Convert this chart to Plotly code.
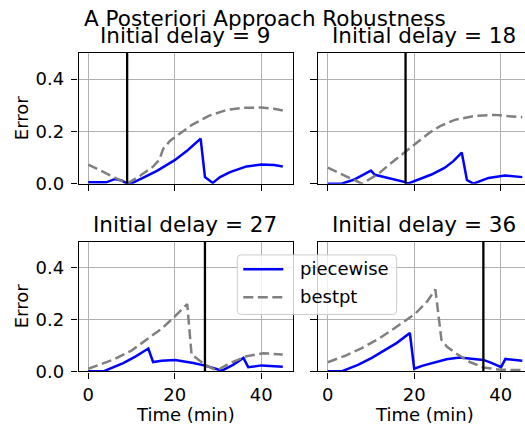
import plotly.graph_objects as go

# ---------------- data ----------------
delays = [9, 18, 27, 36]

pw9_t = [0, 4.2, 6.2, 7.7, 9, 10.4, 13, 16, 20, 23, 26, 27, 28.8, 30.5, 32.8, 36.6, 40.1, 43, 45]
pw9_v = [0.005, 0.005, 0.018, 0.012, 0.0, 0.004, 0.025, 0.05, 0.09, 0.128, 0.172, 0.025, 0.003, 0.025, 0.044, 0.066, 0.073, 0.071, 0.066]
bp9_t = [0, 9, 12, 15, 16.4, 17.4, 19, 21, 24, 28, 32, 36, 40, 43, 45]
bp9_v = [0.073, 0.0, 0.03, 0.065, 0.09, 0.135, 0.165, 0.19, 0.225, 0.26, 0.282, 0.29, 0.291, 0.286, 0.28]

pw18_t = [0, 3.2, 6, 8, 10, 10.9, 14, 17.9, 18.5, 21, 24, 27, 29, 31, 32.2, 33.7, 35.5, 37.2, 41, 45]
pw18_v = [0.0, 0.0, 0.015, 0.032, 0.05, 0.034, 0.022, 0.006, 0.0, 0.015, 0.035, 0.06, 0.085, 0.119, 0.014, 0.0, 0.012, 0.022, 0.031, 0.025]
bp18_t = [0, 7.9, 11.7, 14, 17.9, 20, 23.3, 26, 29.4, 34.1, 38.7, 41, 45]
bp18_v = [0.061, 0.0, 0.037, 0.07, 0.121, 0.15, 0.192, 0.22, 0.244, 0.259, 0.263, 0.259, 0.254]

pw27_t = [0, 3.5, 8.1, 11, 13.9, 15, 17, 20.1, 24.3, 27, 30.9, 33.5, 35.9, 37, 40.1, 45]
pw27_v = [0.0, 0.0, 0.032, 0.058, 0.088, 0.036, 0.041, 0.044, 0.032, 0.022, 0.003, 0.025, 0.052, 0.016, 0.023, 0.018]
bp27_t = [0, 5.8, 10, 13.5, 17, 20.1, 22.9, 23.9, 27, 29.7, 32.8, 36.6, 40.5, 45]
bp27_v = [0.01, 0.045, 0.08, 0.122, 0.165, 0.213, 0.26, 0.065, 0.026, 0.003, 0.032, 0.058, 0.07, 0.065]

pw36_t = [0, 3.2, 7, 10.2, 13, 16, 19, 20, 22, 24.8, 27.5, 30.5, 34, 36, 38, 40.1, 41.1, 45]
pw36_v = [0.0, 0.0, 0.025, 0.052, 0.08, 0.11, 0.148, 0.010, 0.022, 0.036, 0.047, 0.053, 0.049, 0.044, 0.032, 0.016, 0.048, 0.041]
bp36_t = [0, 4, 7.9, 12, 15.6, 20.2, 23, 24.9, 26.3, 27.6, 29.6, 33, 36, 40, 45]
bp36_v = [0.035, 0.06, 0.09, 0.128, 0.168, 0.222, 0.27, 0.316, 0.122, 0.095, 0.07, 0.035, 0.015, 0.006, 0.005]

panels = [
    (pw9_t, pw9_v, bp9_t, bp9_v),
    (pw18_t, pw18_v, bp18_t, bp18_v),
    (pw27_t, pw27_v, bp27_t, bp27_v),
    (pw36_t, pw36_v, bp36_t, bp36_v),
]

x_ticks = [0, 20, 40]
y_ticks = [0.0, 0.2, 0.4]
y_tick_text = ["0.0", "0.2", "0.4"]
y_range = [0, 0.5]

title_text = "A Posteriori Approach Robustness"
panel_title = "Initial delay = {}"
x_label = "Time (min)"
y_label = "Error"
series_names = ["piecewise", "bestpt"]
series_colors = ["#0000ff", "#808080"]
series_dash = ["solid", "10px,4.5px"]

# ---------------- figure ----------------
W, H = 525, 426
YSCALE = 414.5  # pixel-to-paper mapping used for vertical placement
FONT = "DejaVu Sans"


def X(px):
    return px / W


def Y(py):
    return 1 - py / YSCALE


fig = go.Figure()

for i, (pt, pv, bt, bv) in enumerate(panels):
    sfx = "" if i == 0 else str(i + 1)
    xa, ya = "x" + sfx, "y" + sfx
    for k, (tt, vv) in enumerate([(pt, pv), (bt, bv)]):
        fig.add_trace(go.Scatter(x=tt, y=vv, mode="lines", name=series_names[k],
                                 line=dict(color=series_colors[k], width=2.5, dash=series_dash[k]),
                                 xaxis=xa, yaxis=ya, showlegend=False))
    fig.add_trace(go.Scatter(x=[delays[i], delays[i]], y=y_range, mode="lines",
                             line=dict(color="black", width=2.3),
                             xaxis=xa, yaxis=ya, showlegend=False, hoverinfo="skip"))

colx = [[X(78.5), X(292.5)], [X(318), 1.0]]
rowy = [[Y(183), Y(52.7)], [Y(370), Y(241)]]
xranges = [[-2.25, 47.25], [-2.25, 45.63]]

common = dict(showgrid=True, gridcolor="#b0b0b0", gridwidth=1.3,
              showline=True, linecolor="black", linewidth=1.4,
              ticks="outside", ticklen=6.5, tickwidth=1.4, tickcolor="black",
              zeroline=False, tickfont=dict(family=FONT, size=18, color="black"))

layout = {}
for i in range(4):
    r, c = divmod(i, 2)
    sfx = "" if i == 0 else str(i + 1)
    layout["xaxis" + sfx] = dict(common, domain=colx[c], range=xranges[c],
                                 anchor="y" + sfx, tickvals=x_ticks,
                                 showticklabels=(r == 1), mirror=True)
    layout["yaxis" + sfx] = dict(common, domain=rowy[r], range=y_range,
                                 anchor="x" + sfx, tickvals=y_ticks, ticktext=y_tick_text,
                                 showticklabels=(c == 0), mirror=(c == 0),
                                 ticklabelstandoff=3)

ann = []


def A(text, x, y, size=18, angle=0, xanchor="center"):
    ann.append(dict(text=text, x=x, y=y, xref="paper", yref="paper",
                    xanchor=xanchor, yanchor="middle", showarrow=False,
                    textangle=angle, font=dict(family=FONT, size=size, color="black")))


A(title_text, X(265.3), Y(18.5), size=21.5)
tcx = [X(184.5), X(424)]
tcy = [Y(35.8), Y(223.5)]
for i in range(4):
    r, c = divmod(i, 2)
    A(panel_title.format(delays[i]), tcx[c], tcy[r], size=21.5)
A(y_label, X(21.7), Y(118), angle=-90)
A(y_label, X(21.7), Y(305.5), angle=-90)
A(x_label, X(185.5), Y(413))
A(x_label, X(424), Y(413))

# legend (box, sample lines, labels)
lx0, lx1, ly0, ly1, rr = 237.3, 396.7, 254, 313.3, 4
x0, x1, y0, y1 = X(lx0), X(lx1), Y(ly0), Y(ly1)
rx, ry = rr / W, rr / H
box = (f"M{x0 + rx},{y0} L{x1 - rx},{y0} Q{x1},{y0} {x1},{y0 - ry} "
       f"L{x1},{y1 + ry} Q{x1},{y1} {x1 - rx},{y1} L{x0 + rx},{y1} "
       f"Q{x0},{y1} {x0},{y1 + ry} L{x0},{y0 - ry} Q{x0},{y0} {x0 + rx},{y0} Z")
shapes = [dict(type="path", path=box, xref="paper", yref="paper", layer="above",
               fillcolor="rgba(255,255,255,0.8)", line=dict(color="#cccccc", width=1))]
entry_y = [268.3, 296.3]
for k in range(2):
    shapes.append(dict(type="line", xref="paper", yref="paper", layer="above",
                       x0=X(243.3), x1=X(283.3), y0=Y(entry_y[k]), y1=Y(entry_y[k]),
                       line=dict(color=series_colors[k], width=2.5, dash=series_dash[k])))
    A(series_names[k], X(297.5), Y(entry_y[k] - 1), xanchor="left")

fig.update_layout(
    width=W, height=H,
    margin=dict(l=0, r=0, t=0, b=0),
    paper_bgcolor="white", plot_bgcolor="white",
    font=dict(family=FONT, size=18, color="black"),
    annotations=ann, shapes=shapes, showlegend=False,
    **layout,
)

fig.write_html("out.html")
